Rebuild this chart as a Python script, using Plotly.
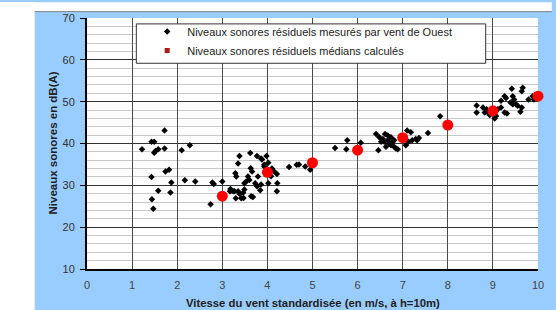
import plotly.graph_objects as go

# Measured residual noise levels (wind from West)
wind_speed = [
    1.72, 1.43, 1.49, 1.22, 1.49, 1.52, 1.58, 1.72, 2.10, 2.28, 1.74, 1.82, 1.43, 1.87, 2.17, 2.40,
    1.58, 1.85, 1.44, 1.47, 2.78, 2.81, 3.00, 2.74, 3.17, 3.27, 3.30,
    3.38, 3.35, 3.62, 3.77, 3.88, 3.98, 4.02, 3.93, 3.29, 3.31, 3.63, 3.66, 3.57, 3.60, 3.49, 3.53,
    3.20, 3.24, 3.35, 3.38, 3.46, 3.42, 3.64, 3.68, 3.84, 3.73, 3.77, 4.02, 4.22, 4.21, 4.15, 4.21,
    4.48, 4.65, 4.70, 4.84, 4.95, 5.50, 5.75, 5.77,
    3.18, 3.49, 3.47, 3.79, 3.86, 3.93, 3.86, 4.08, 4.10, 3.95,
    6.07, 6.46, 6.41, 6.48, 6.56, 6.61, 6.67, 6.67, 6.70, 6.74, 6.78, 6.81, 6.85, 6.89, 6.63, 6.74,
    6.59, 6.52, 6.81, 7.10, 7.18, 7.13, 7.21, 7.29, 7.36, 7.32, 7.07, 7.56, 7.83,
    8.64, 8.64, 8.78, 8.86, 8.89, 8.93, 9.04, 9.07, 9.11, 9.18, 9.26, 9.31, 8.82, 9.18, 9.26, 9.29,
    9.42, 9.44, 9.47, 9.51, 9.55, 9.66, 9.64, 9.39, 9.44, 9.64, 9.61, 9.79, 9.88, 9.91,
]
noise_level = [
    43.1, 40.4, 40.4, 38.6, 37.8, 38.2, 38.6, 38.8, 38.4, 39.6, 33.3, 33.7, 32.0, 30.7, 31.2, 30.9,
    28.7, 28.3, 26.7, 24.4, 30.7, 30.3, 30.9, 25.5, 28.6, 28.6, 26.9,
    37.0, 35.2, 37.7, 37.0, 36.2, 37.0, 35.4, 34.9, 32.9, 32.1, 34.1, 33.3, 32.1, 31.3, 30.5, 30.9,
    28.8, 28.6, 28.6, 28.0, 28.2, 26.9, 27.4, 27.2, 28.8, 30.5, 29.8, 30.5, 30.5, 28.6, 33.3, 32.7,
    34.4, 34.9, 35.0, 34.5, 33.7, 38.9, 38.6, 40.8,
    29.1, 29.0, 27.0, 32.1, 30.2, 34.5, 36.4, 32.2, 34.0, 33.0,
    40.2, 38.4, 42.3, 41.5, 41.1, 42.3, 41.9, 40.8, 40.0, 39.6, 40.4, 39.2, 38.8, 38.6, 39.2, 41.5,
    40.4, 40.4, 40.8, 43.1, 42.7, 40.4, 40.8, 41.1, 41.3, 40.8, 39.6, 42.5, 46.5,
    49.1, 47.4, 48.6, 48.2, 47.4, 46.8, 46.0, 46.6, 48.2, 48.6, 47.4, 47.2, 47.4, 50.2, 51.3, 50.9,
    53.1, 51.3, 50.5, 49.4, 49.0, 53.3, 52.5, 49.8, 49.4, 48.6, 47.6, 50.5, 51.3, 50.5,
]

# Calculated median residual noise levels
median_speed = [3, 4, 5, 6, 7, 8, 9, 10]
median_level = [27.4, 33.1, 35.4, 38.4, 41.4, 44.4, 47.8, 51.3]

x_ticks = [0, 1, 2, 3, 4, 5, 6, 7, 8, 9, 10]
y_ticks = [10, 20, 30, 40, 50, 60, 70]

series_names = [
    "Niveaux sonores résiduels mesurés par vent de Ouest",
    "Niveaux sonores résiduels médians calculés",
]

FONT = "Liberation Sans, Arial, sans-serif"
BLUE = "#99ccff"

fig = go.Figure()

fig.add_trace(go.Scatter(
    x=wind_speed, y=noise_level, mode="markers",
    marker=dict(symbol="diamond", size=5, color="black"),
    showlegend=False, cliponaxis=False,
))
fig.add_trace(go.Scatter(
    x=median_speed, y=median_level, mode="markers",
    marker=dict(symbol="circle", size=11, color="#ff0000"),
    showlegend=False, cliponaxis=False,
))
# legend-only entries with small symbols, as in the reference
fig.add_trace(go.Scatter(
    x=[None], y=[None], mode="markers", name=series_names[0],
    marker=dict(symbol="diamond", size=5, color="black"),
))
fig.add_trace(go.Scatter(
    x=[None], y=[None], mode="markers", name=series_names[1],
    marker=dict(symbol="square", size=5, color="#b01818"),
))

W, H = 556, 310
L, R, T, B = 87, 556 - 544, 14, 310 - 269
pw, ph = W - L - R, H - T - B


def px_x(p):
    return (p - L) / pw


def px_y(p):
    return (H - B - p) / ph


fig.update_layout(
    width=W, height=H,
    margin=dict(l=L, r=R, t=T, b=B),
    paper_bgcolor=BLUE,
    plot_bgcolor="white",
    font=dict(family=FONT, size=11, color="#222"),
    showlegend=True,
    legend=dict(
        x=px_x(148), y=px_y(13), xanchor="left", yanchor="top",
        bgcolor="rgba(0,0,0,0)", borderwidth=0,
        font=dict(family=FONT, size=11, color="#222"),
        itemclick=False, itemdoubleclick=False,
    ),
    xaxis=dict(
        range=[0, 10], tickvals=x_ticks, ticktext=[str(v) for v in x_ticks],
        showgrid=True, gridcolor="#4a4a4a", gridwidth=1.3,
        showline=True, linecolor="black", linewidth=2,
        ticks="", zeroline=False, ticklabelstandoff=5,
        tickfont=dict(family=FONT, size=11, color="#444"),
    ),
    yaxis=dict(
        range=[10, 70], tickvals=y_ticks, ticktext=[str(v) for v in y_ticks],
        showgrid=True, gridcolor="#333", gridwidth=1,
        minor=dict(dtick=2, showgrid=True, gridcolor="#c8c8c8", gridwidth=1, ticks=""),
        showline=True, linecolor="black", linewidth=2,
        ticks="outside", ticklen=5, tickcolor="black",
        zeroline=False, ticklabelstandoff=3,
        tickfont=dict(family=FONT, size=11, color="#333"),
    ),
    shapes=[
        # white strips outside the blue chart area
        dict(type="rect", xref="paper", yref="paper", x0=px_x(-2), x1=px_x(34), y0=px_y(312), y1=px_y(-2),
             fillcolor="white", line=dict(width=0), layer="below"),
        dict(type="rect", xref="paper", yref="paper", x0=px_x(-2), x1=px_x(558), y0=px_y(7), y1=px_y(-2),
             fillcolor="white", line=dict(width=0), layer="below"),
        dict(type="line", xref="paper", yref="paper", x0=px_x(34), x1=px_x(558), y0=px_y(7.5), y1=px_y(7.5),
             line=dict(color="#888", width=1), layer="below"),
        # legend box
        dict(type="rect", xref="paper", yref="paper", x0=px_x(137), x1=px_x(491), y0=px_y(60), y1=px_y(20),
             fillcolor="white", line=dict(color="#333", width=1), layer="above"),
    ],
    annotations=[
        dict(text="<b>Vitesse du vent standardisée (en m/s, à h=10m)</b>", xref="paper", yref="paper",
             x=0.5, y=0, xanchor="center", yanchor="top", yshift=-26, showarrow=False,
             font=dict(family=FONT, size=11.3, color="#222")),
        dict(text="<b>Niveaux sonores en dB(A)</b>", xref="paper", yref="paper",
             x=0, y=0.5, xanchor="center", yanchor="middle", xshift=-35, textangle=-90, showarrow=False,
             font=dict(family=FONT, size=11.5, color="#222")),
    ],
)

fig.write_html(
    "out.html",
    config={"displayModeBar": False},
    post_script="document.body.style.margin='0px';document.body.style.overflow='hidden';",
)
